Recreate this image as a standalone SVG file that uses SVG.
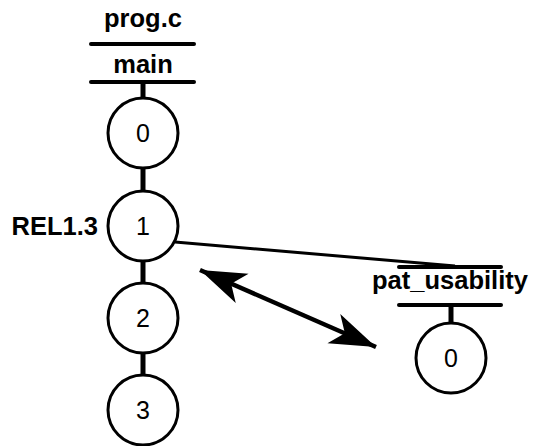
<svg xmlns="http://www.w3.org/2000/svg" width="536" height="446" viewBox="0 0 536 446">
  <style>
    .bar { stroke: #000; stroke-width: 4; stroke-linecap: round; fill: none; }
    .stem { stroke: #000; stroke-width: 5; fill: none; }
    .rev { stroke: #000; stroke-width: 3; fill: #fff; }
    .link { stroke: #000; stroke-width: 3; fill: none; }
    .dbl { stroke: #000; stroke-width: 4.5; fill: none; }
    .lbl { font-family: "Liberation Sans", Arial, sans-serif; font-size: 25.5px; font-weight: bold; fill: #000; }
    .num { font-family: "Liberation Sans", Arial, sans-serif; font-size: 25px; fill: #000; text-anchor: middle; }
  </style>
  <defs>
    <marker id="head" viewBox="-48 -18 50 36" markerWidth="50" markerHeight="36" markerUnits="userSpaceOnUse" refX="0" refY="0" orient="auto-start-reverse">
      <path d="M0,0 L-46,-16 L-34,0 L-46,16 Z" fill="#000"/>
    </marker>
  </defs>

  <!-- connectors -->
  <g id="connectors">
    <line class="stem" x1="143" y1="82" x2="143" y2="98"/>
    <line class="stem" x1="143" y1="168" x2="143" y2="191"/>
    <line class="stem" x1="143" y1="261" x2="143" y2="283"/>
    <line class="stem" x1="143" y1="353" x2="143" y2="375"/>
    <line class="stem" x1="451" y1="305" x2="451" y2="323"/>
    <line class="link" x1="175" y1="242" x2="455" y2="266"/>
    <line class="dbl" x1="200" y1="270" x2="376" y2="347" marker-start="url(#head)" marker-end="url(#head)"/>
  </g>

  <!-- file / branch header: prog.c / main -->
  <g id="branch-main">
    <text class="lbl" x="143" y="27" text-anchor="middle">prog.c</text>
    <line class="bar" x1="91" y1="44" x2="194" y2="44"/>
    <text class="lbl" x="143" y="73" text-anchor="middle">main</text>
    <line class="bar" x1="91" y1="82" x2="194" y2="82"/>
  </g>

  <g id="rev-main-0">
    <circle class="rev" cx="143" cy="133" r="35"/>
    <text class="num" x="143" y="142">0</text>
  </g>
  <g id="rev-main-1">
    <circle class="rev" cx="143" cy="226" r="35"/>
    <text class="num" x="143" y="235">1</text>
    <text class="lbl" x="98" y="235" text-anchor="end">REL1.3</text>
  </g>
  <g id="rev-main-2">
    <circle class="rev" cx="143" cy="318" r="35"/>
    <text class="num" x="143" y="327">2</text>
  </g>
  <g id="rev-main-3">
    <circle class="rev" cx="143" cy="410" r="35"/>
    <text class="num" x="143" y="419">3</text>
  </g>

  <!-- branch header: pat_usability -->
  <g id="branch-pat">
    <line class="bar" x1="399" y1="267" x2="501" y2="267"/>
    <text class="lbl" x="450" y="289" text-anchor="middle">pat_usability</text>
    <line class="bar" x1="399" y1="305" x2="501" y2="305"/>
  </g>
  <g id="rev-pat-0">
    <circle class="rev" cx="451" cy="358" r="35"/>
    <text class="num" x="451" y="367">0</text>
  </g>
</svg>
